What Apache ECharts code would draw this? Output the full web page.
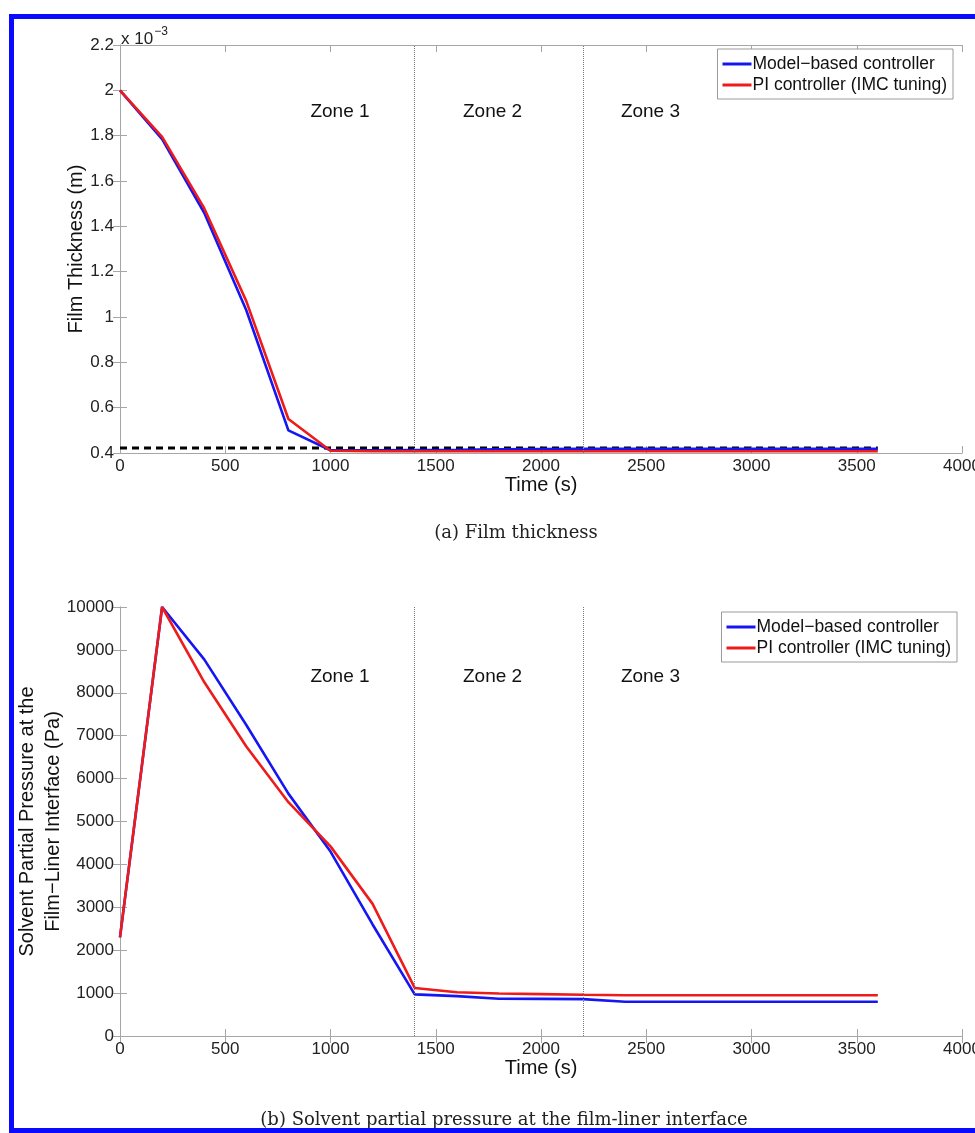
<!DOCTYPE html>
<html>
<head>
<meta charset="utf-8">
<title>Film thickness and solvent partial pressure</title>
<script src="https://cdn.jsdelivr.net/npm/echarts@6/dist/echarts.min.js"></script>
<style>
  html, body { margin: 0; padding: 0; background: #fff; overflow: hidden; }
  #chart { width: 975px; height: 1133px; }
  .frame {
    position: absolute; left: 9px; top: 14px; width: 1000px; height: 1109px;
    border: 5px solid #0a0aff; pointer-events: none;
  }
</style>
</head>
<body>
<div id="chart"></div>
<div class="frame"></div>
<script>
// sample times (s)
const time = [0, 200, 400, 600, 800, 1000, 1200, 1400, 1600, 1800, 2000, 2200, 2400, 2600, 2800, 3000, 3200, 3400, 3600]

// (a) film thickness, in units of 1e-3 m
const thickModel = [2.0, 1.785, 1.46, 1.03, 0.50, 0.412, 0.412, 0.413, 0.414, 0.416, 0.417, 0.418, 0.418, 0.418, 0.418, 0.418, 0.418, 0.418, 0.418]
const thickPI = [2.0, 1.795, 1.48, 1.07, 0.55, 0.41, 0.408, 0.408, 0.408, 0.408, 0.408, 0.408, 0.408, 0.408, 0.408, 0.408, 0.408, 0.408, 0.408]
const setpointTime = [0, 3600]
const setpointThick = [0.422, 0.422]

// (b) solvent partial pressure at the film-liner interface (Pa)
const pressModel = [2300, 10000, 8780, 7250, 5650, 4300, 2600, 970, 930, 870, 865, 860, 800, 800, 800, 800, 800, 800, 800]
const pressPI = [2300, 10000, 8250, 6750, 5450, 4420, 3080, 1120, 1020, 990, 975, 960, 950, 950, 950, 950, 950, 950, 950]

// zones
const zoneBounds = [1400, 2200]
const zoneNames = ['Zone 1', 'Zone 2', 'Zone 3']
const zoneLabelTime = [1045, 1770, 2520]
const zoneLabelThick = 1.905
const zoneLabelPress = 8370

const seriesNames = ['Model\u2212based controller', 'PI controller (IMC tuning)']
const xTicks = { min: 0, max: 4000, interval: 500 }
const thickTicks = { min: 0.4, max: 2.2, interval: 0.2 }
const pressTicks = { min: 0, max: 10000, interval: 1000 }

const FONT = 'Liberation Sans'
const BLUE = '#1616f2'
const RED = '#ee1b1b'
const AXIS = '#a6a6a6'

const pairs = (xs, ys) => xs.map((x, i) => [x, ys[i]])

function xAxisPair(grid) {
  return [
    {
      type: 'value', gridIndex: grid, position: 'bottom',
      min: xTicks.min, max: xTicks.max, interval: xTicks.interval,
      name: 'Time (s)', nameLocation: 'middle', nameGap: 22, nameMoveOverlap: false,
      nameTextStyle: { fontFamily: FONT, fontSize: 20, color: '#111' },
      axisLine: { lineStyle: { color: AXIS } },
      axisTick: { inside: true, length: 7, lineStyle: { color: AXIS } },
      axisLabel: { fontFamily: FONT, fontSize: 17, color: '#222', margin: 5, showMaxLabel: true, formatter: v => String(v) },
      splitLine: { show: false }
    },
    {
      type: 'value', gridIndex: grid, position: 'top',
      min: xTicks.min, max: xTicks.max, interval: xTicks.interval,
      axisLine: { lineStyle: { color: AXIS } },
      axisTick: { inside: true, length: 7, lineStyle: { color: AXIS } },
      axisLabel: { show: false },
      splitLine: { show: false }
    }
  ]
}

function yAxisPair(grid, ticks, name, nameGap, fmt) {
  return [
    {
      type: 'value', gridIndex: grid, position: 'left',
      min: ticks.min, max: ticks.max, interval: ticks.interval,
      name: name, nameLocation: 'middle', nameGap: nameGap, nameMoveOverlap: false,
      nameTextStyle: { fontFamily: FONT, fontSize: 20, color: '#111', lineHeight: 26 },
      axisLine: { show: true, lineStyle: { color: AXIS } },
      axisTick: { show: true, inside: true, length: 7, lineStyle: { color: AXIS } },
      axisLabel: { fontFamily: FONT, fontSize: 17, color: '#222', margin: 6, formatter: fmt },
      splitLine: { show: false }
    },
    {
      type: 'value', gridIndex: grid, position: 'right',
      min: ticks.min, max: ticks.max, interval: ticks.interval,
      axisLine: { show: true, lineStyle: { color: AXIS } },
      axisTick: { show: true, inside: true, length: 7, lineStyle: { color: AXIS } },
      axisLabel: { show: false },
      splitLine: { show: false }
    }
  ]
}

function zoneMarks(labelY) {
  return {
    markLine: {
      silent: true,
      symbol: ['none', 'none'],
      label: { show: false },
      lineStyle: { type: 'dotted', color: '#7a7a7a', width: 1 },
      data: zoneBounds.map(x => ({ xAxis: x }))
    },
    markPoint: {
      silent: true,
      symbol: 'circle',
      symbolSize: 1,
      itemStyle: { color: 'rgba(0,0,0,0)' },
      label: { show: true, position: 'inside', formatter: '{b}', fontFamily: FONT, fontSize: 19, color: '#111' },
      data: zoneNames.map((n, i) => ({ name: n, coord: [zoneLabelTime[i], labelY] }))
    }
  }
}

function lineSeries(name, color, xi, yi, data, extra) {
  return Object.assign({
    name: name, type: 'line', xAxisIndex: xi, yAxisIndex: yi,
    data: data, symbol: 'none', animation: false,
    lineStyle: { color: color, width: 2.6 }, itemStyle: { color: color }
  }, extra || {})
}

function legendAt(top, right) {
  return {
    data: seriesNames, orient: 'vertical', top: top, right: right,
    backgroundColor: '#fff', borderColor: '#9a9a9a', borderWidth: 1, borderRadius: 0,
    padding: [6, 6, 5, 5], itemGap: 3, itemWidth: 29, itemHeight: 3, icon: 'rect',
    textStyle: { fontFamily: FONT, fontSize: 17.5, color: '#111', padding: [0, 0, 0, -4] },
    selectedMode: false
  }
}

const chart = echarts.init(document.getElementById('chart'), null, { renderer: 'canvas' })

chart.setOption({
  animation: false,
  backgroundColor: '#fff',
  grid: [
    { left: 120, top: 45, width: 842, height: 408, containLabel: false, outerBoundsMode: 'none' },
    { left: 120, top: 607, width: 842, height: 429, containLabel: false, outerBoundsMode: 'none' }
  ],
  legend: [legendAt(49, 22), legendAt(612, 18)],
  xAxis: [...xAxisPair(0), ...xAxisPair(1)],
  yAxis: [
    ...yAxisPair(0, thickTicks, 'Film Thickness (m)', 31, v => String(Number(v.toFixed(1)))),
    ...yAxisPair(1, pressTicks, 'Solvent Partial Pressure at the\nFilm\u2212Liner Interface (Pa)', 54, v => String(v))
  ],
  series: [
    lineSeries('Setpoint', '#000', 0, 0, pairs(setpointTime, setpointThick), {
      lineStyle: { color: '#000', width: 2.8, type: [7, 5] }
    }),
    lineSeries(seriesNames[0], BLUE, 0, 0, pairs(time, thickModel), zoneMarks(zoneLabelThick)),
    lineSeries(seriesNames[1], RED, 0, 0, pairs(time, thickPI)),
    lineSeries(seriesNames[0], BLUE, 2, 2, pairs(time, pressModel), zoneMarks(zoneLabelPress)),
    lineSeries(seriesNames[1], RED, 2, 2, pairs(time, pressPI))
  ],
  graphic: [
    {
      type: 'text', left: 121, top: 26,
      style: {
        text: '{a|x 10}{b|\u22123}',
        rich: {
          a: { fontFamily: FONT, fontSize: 17, fill: '#222', verticalAlign: 'bottom' },
          b: { fontFamily: FONT, fontSize: 12, fill: '#222', verticalAlign: 'top', padding: [0, 0, 10, 1] }
        }
      }
    },
    {
      type: 'text', x: 516, y: 533,
      style: { text: '(a) Film thickness', fontFamily: 'DejaVu Serif', fontSize: 18, fill: '#222', align: 'center', verticalAlign: 'middle' }
    },
    {
      type: 'text', x: 504, y: 1120,
      style: { text: '(b) Solvent partial pressure at the film-liner interface', fontFamily: 'DejaVu Serif', fontSize: 18, fill: '#222', align: 'center', verticalAlign: 'middle' }
    }
  ]
})
</script>
</body>
</html>
